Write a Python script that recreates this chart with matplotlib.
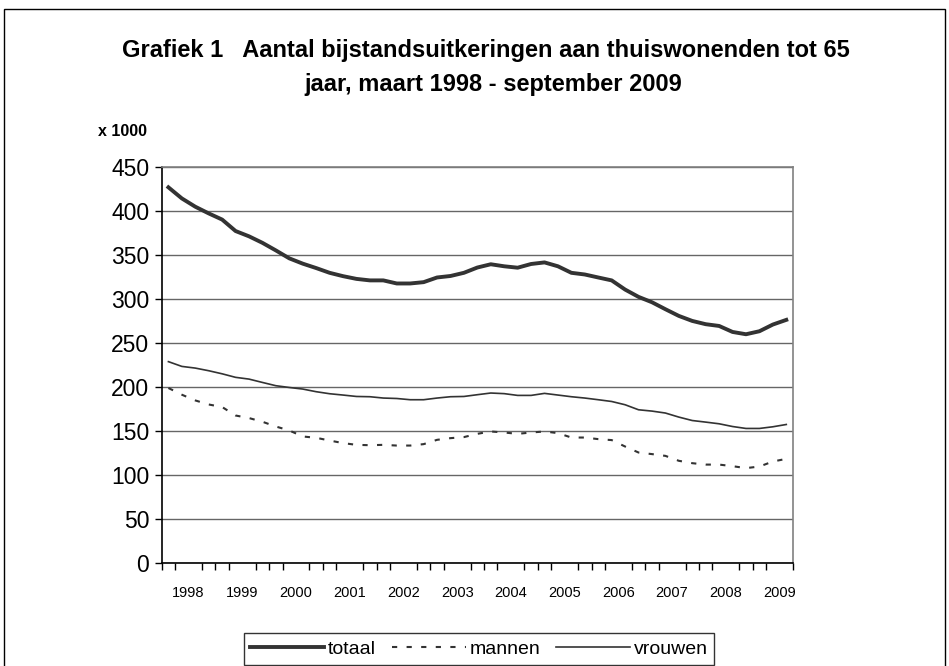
import matplotlib.pyplot as plt
from matplotlib.patches import Rectangle
from matplotlib.ticker import FixedLocator, NullFormatter

# kwartaalcijfers maart 1998 - september 2009 (x 1000)
totaal = [426.6, 414.0, 404.6, 397.0, 390.0, 377.0, 371.0, 363.6, 355.0, 346.0,
          340.0, 335.0, 329.6, 325.8, 322.7, 321.0, 321.0, 317.5, 317.5, 319.0,
          324.3, 326.0, 329.6, 335.6, 339.3, 337.0, 335.4, 339.6, 341.4, 337.0,
          329.6, 327.7, 324.3, 321.0, 310.6, 302.3, 296.2, 288.3, 280.7, 275.0,
          271.3, 269.3, 262.5, 259.9, 263.3, 270.9, 276.2]
mannen = [198.9, 191.3, 184.8, 180.2, 177.3, 167.7, 164.8, 160.6, 155.2, 150.7,
          143.9, 142.4, 139.3, 136.4, 134.4, 134.0, 134.4, 133.6, 133.6, 135.2,
          140.1, 142.0, 143.2, 146.9, 149.6, 148.4, 146.9, 148.4, 149.6, 147.7,
          142.7, 142.7, 140.9, 139.8, 132.5, 125.7, 123.9, 121.9, 116.3, 113.6,
          112.0, 112.0, 110.2, 108.0, 109.8, 115.5, 118.5]
vrouwen = [228.8, 223.4, 221.5, 218.5, 215.0, 211.0, 209.0, 205.2, 201.5, 199.5,
           197.7, 194.7, 192.4, 190.9, 189.3, 189.0, 187.5, 187.0, 185.6, 185.6,
           187.5, 189.0, 189.3, 191.3, 193.2, 192.5, 190.5, 190.5, 192.8, 190.9,
           189.0, 187.5, 185.6, 183.6, 179.9, 174.2, 172.7, 170.5, 165.9, 162.0,
           160.2, 158.3, 155.2, 153.0, 153.0, 154.9, 157.5]
years = [str(y) for y in range(1998, 2010)]

plt.rcParams['font.family'] = ['Liberation Sans', 'DejaVu Sans']

fig = plt.figure(figsize=(9.49, 6.66), dpi=100)
W, H = 949, 666

# buitenkader
fig.patches.append(Rectangle((4 / W, -0.02), 941 / W, 1 - 9 / H + 0.02,
                             transform=fig.transFigure, fill=False,
                             edgecolor='black', linewidth=1.0))

ax = fig.add_axes([161.7 / W, 1 - 563.3 / H, (793 - 161.7) / W, (563.3 - 166.7) / H])

x = list(range(len(totaal)))
ax.plot(x, totaal, color='#333333', linewidth=2.8, label='totaal', zorder=3)
ax.plot(x, mannen, color='#333333', linewidth=1.5, linestyle=(0, (2.5, 4.5)),
        label='mannen', zorder=3)
ax.plot(x, vrouwen, color='#333333', linewidth=1.2, label='vrouwen', zorder=3)

ax.set_xlim(-0.5, len(totaal) - 0.5)
ax.set_ylim(0, 450)
ax.set_yticks(range(0, 451, 50))
ax.yaxis.grid(True, color='#666666', linewidth=1.0)
ax.set_axisbelow(True)

ax.xaxis.set_major_locator(FixedLocator([1.5 + 4 * k for k in range(len(years))]))
ax.set_xticklabels(years)
ax.xaxis.set_minor_locator(FixedLocator([k - 0.5 for k in range(len(totaal) + 1)]))
ax.xaxis.set_minor_formatter(NullFormatter())
ax.tick_params(axis='x', which='major', length=0, pad=16, labelsize=10.5)
ax.tick_params(axis='x', which='minor', length=5, width=1, direction='out', color='black')
ax.tick_params(axis='y', length=5, width=1, direction='out', labelsize=16.5, pad=4)

for s in ['left', 'bottom']:
    ax.spines[s].set_color('black')
    ax.spines[s].set_linewidth(1.2)
for s in ['top', 'right']:
    ax.spines[s].set_color('#808080')
    ax.spines[s].set_linewidth(1.2)

fig.text(486 / W, 1 - 51 / H,
         'Grafiek 1   Aantal bijstandsuitkeringen aan thuiswonenden tot 65',
         ha='center', va='center', fontsize=17, fontweight='bold')
fig.text(493 / W, 1 - 84 / H, 'jaar, maart 1998 - september 2009',
         ha='center', va='center', fontsize=17, fontweight='bold')
fig.text(98 / W, 1 - 131 / H, 'x 1000', ha='left', va='center',
         fontsize=11.5, fontweight='bold')

leg = fig.legend(loc='center', bbox_to_anchor=(479 / W, 1 - 649 / H), ncol=3,
                 fontsize=14, frameon=True, fancybox=False, edgecolor='black',
                 handlelength=3.8, handletextpad=0.2, columnspacing=0.8,
                 borderpad=0.35)
leg.get_frame().set_linewidth(1.0)

fig.savefig('out.png', dpi=100)
